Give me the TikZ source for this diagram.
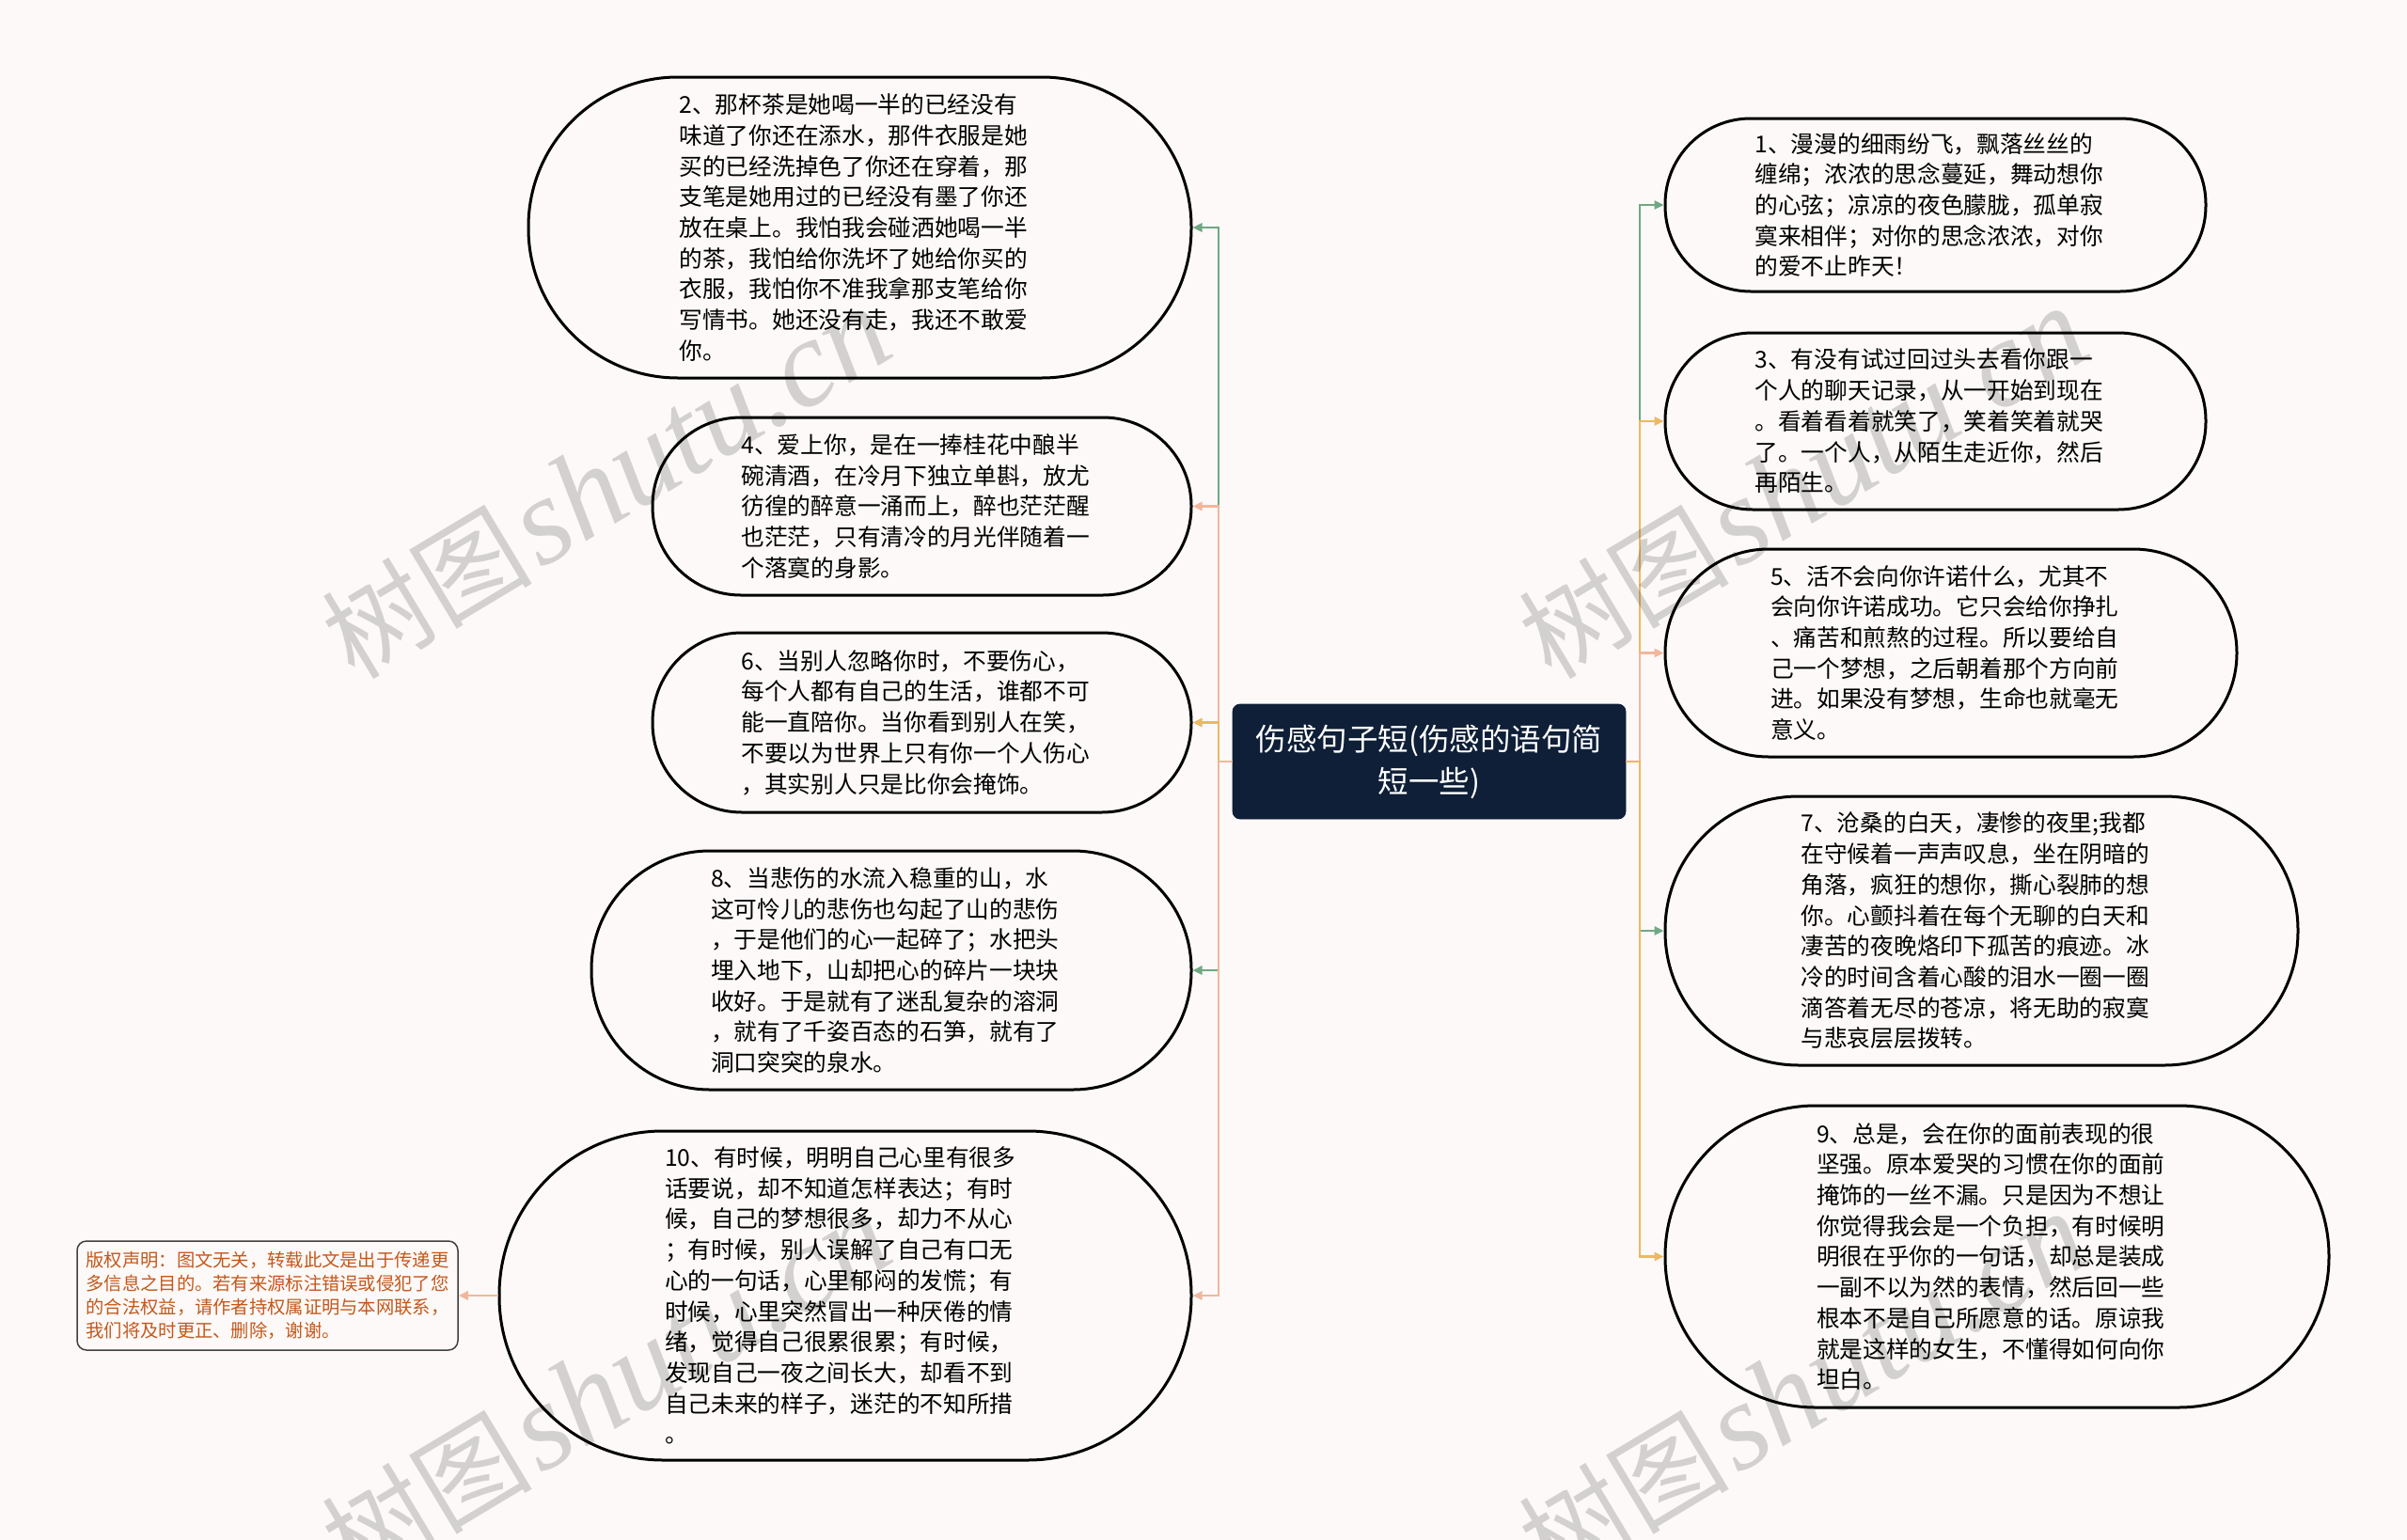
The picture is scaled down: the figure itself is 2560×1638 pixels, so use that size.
\documentclass[tikz,border=0pt]{standalone}
\usepackage{fontspec}
\newfontfamily\cjk{Noto Sans CJK SC}
\newfontfamily\wmserif{Liberation Serif}
\usetikzlibrary{arrows.meta}
\definecolor{bg}{HTML}{FCF9F8}
\definecolor{lgreen}{HTML}{6FA882}
\definecolor{lsalmon}{HTML}{F2B79B}
\definecolor{lyellow}{HTML}{EBB864}
\definecolor{navy}{HTML}{0E1F37}
\definecolor{copyc}{HTML}{C4581C}
\tikzset{
  leaf/.style={draw=black, line width=1.5pt, fill=bg, align=left, inner sep=0pt,
    text width=192pt, font=\cjk\fontsize{12.35pt}{16.35pt}\selectfont},
  conn/.style={line width=1.25pt, -{Triangle[length=5pt,width=4.5pt]}},
  rootbox/.style={fill=navy, draw=navy, rounded corners=4pt, text=white, align=center,
    inner sep=0pt, minimum width=209pt, minimum height=61pt,
    font=\cjk\fontsize{16.25pt}{22.5pt}\selectfont},
  copybox/.style={draw=black!75, line width=0.75pt, fill=bg, rounded corners=5pt,
    text=copyc, align=left, inner sep=0pt, minimum width=202.5pt, minimum height=58pt,
    font=\cjk\fontsize{9.65pt}{12.5pt}\selectfont},
  wmark/.style={text=black, text opacity=0.16, rotate=31, inner sep=0pt}
}
\begin{document}
\begin{tikzpicture}[x=0.5pt,y=-0.5pt]
\fill[bg] (0,0) rectangle (2560,1638);
\useasboundingbox (0,0) rectangle (2560,1638);

% root
\node[rootbox] (c) at (1520,810) {伤感句子短(伤感的语句简\\短一些)};

% left leaves
\node[leaf, minimum width=352.5pt, minimum height=160pt, rounded corners=79.5pt] (n2) at (914.5,242)
{2、那杯茶是她喝一半的已经没有\\味道了你还在添水，那件衣服是她\\买的已经洗掉色了你还在穿着，那\\支笔是她用过的已经没有墨了你还\\放在桌上。我怕我会碰洒她喝一半\\的茶，我怕给你洗坏了她给你买的\\衣服，我怕你不准我拿那支笔给你\\写情书。她还没有走，我还不敢爱\\你。};
\node[leaf, minimum width=286.5pt, minimum height=94.5pt, rounded corners=47pt] (n4) at (980.5,538.5)
{4、爱上你，是在一捧桂花中酿半\\碗清酒，在冷月下独立单斟，放尤\\彷徨的醉意一涌而上，醉也茫茫醒\\也茫茫，只有清冷的月光伴随着一\\个落寞的身影。};
\node[leaf, minimum width=286.5pt, minimum height=95.5pt, rounded corners=47.5pt] (n6) at (980.5,768.5)
{6、当别人忽略你时，不要伤心，\\每个人都有自己的生活，谁都不可\\能一直陪你。当你看到别人在笑，\\不要以为世界上只有你一个人伤心\\，其实别人只是比你会掩饰。};
\node[leaf, minimum width=319pt, minimum height=127pt, rounded corners=63pt] (n8) at (948,1032)
{8、当悲伤的水流入稳重的山，水\\这可怜儿的悲伤也勾起了山的悲伤\\，于是他们的心一起碎了；水把头\\埋入地下，山却把心的碎片一块块\\收好。于是就有了迷乱复杂的溶洞\\，就有了千姿百态的石笋，就有了\\洞口突突的泉水。};
\node[leaf, minimum width=368pt, minimum height=175pt, rounded corners=87pt] (n10) at (899,1378)
{10、有时候，明明自己心里有很多\\话要说，却不知道怎样表达；有时\\候，自己的梦想很多，却力不从心\\；有时候，别人误解了自己有口无\\心的一句话，心里郁闷的发慌；有\\时候，心里突然冒出一种厌倦的情\\绪，觉得自己很累很累；有时候，\\发现自己一夜之间长大，却看不到\\自己未来的样子，迷茫的不知所措\\。};

% right leaves
\node[leaf, minimum width=287.5pt, minimum height=92pt, rounded corners=45.5pt] (n1) at (2058.5,218)
{1、漫漫的细雨纷飞，飘落丝丝的\\缠绵；浓浓的思念蔓延，舞动想你\\的心弦；凉凉的夜色朦胧，孤单寂\\寞来相伴；对你的思念浓浓，对你\\的爱不止昨天！};
\node[leaf, minimum width=287.5pt, minimum height=94pt, rounded corners=46.5pt] (n3) at (2058.5,448)
{3、有没有试过回过头去看你跟一\\个人的聊天记录，从一开始到现在\\。看着看着就笑了，笑着笑着就哭\\了。一个人，从陌生走近你，然后\\再陌生。};
\node[leaf, minimum width=304pt, minimum height=110.5pt, rounded corners=55pt] (n5) at (2075,694.5)
{5、活不会向你许诺什么，尤其不\\会向你许诺成功。它只会给你挣扎\\、痛苦和煎熬的过程。所以要给自\\己一个梦想，之后朝着那个方向前\\进。如果没有梦想，生命也就毫无\\意义。};
\node[leaf, minimum width=336.5pt, minimum height=143pt, rounded corners=71pt] (n7) at (2107.5,990)
{7、沧桑的白天，凄惨的夜里;我都\\在守候着一声声叹息，坐在阴暗的\\角落，疯狂的想你，撕心裂肺的想\\你。心颤抖着在每个无聊的白天和\\凄苦的夜晚烙印下孤苦的痕迹。冰\\冷的时间含着心酸的泪水一圈一圈\\滴答着无尽的苍凉，将无助的寂寞\\与悲哀层层拨转。};
\node[leaf, minimum width=353pt, minimum height=160.5pt, rounded corners=80pt] (n9) at (2124,1336.5)
{9、总是，会在你的面前表现的很\\坚强。原本爱哭的习惯在你的面前\\掩饰的一丝不漏。只是因为不想让\\你觉得我会是一个负担，有时候明\\明很在乎你的一句话，却总是装成\\一副不以为然的表情，然后回一些\\根本不是自己所愿意的话。原谅我\\就是这样的女生，不懂得如何向你\\坦白。};

% copyright
\node[copybox] (cp) at (284.5,1378)
{版权声明：图文无关，转载此文是出于传递更\\多信息之目的。若有来源标注错误或侵犯了您\\的合法权益，请作者持权属证明与本网联系，\\我们将及时更正、删除，谢谢。};

% trunks
\coordinate (LT) at (1296,810);
\coordinate (RT) at (1744,810);

% left connectors
\draw[conn,lgreen] (c.west) -- (LT) |- (n2.east);
\draw[conn,lgreen] (c.west) -- (LT) |- (n8.east);
\draw[conn,lsalmon] (c.west) -- (LT) |- (n4.east);
\draw[conn,lyellow] (c.west) -- (LT) |- (n6.east);
\draw[conn,lsalmon] (c.west) -- (LT) |- (n10.east);

% right connectors
\draw[conn,lgreen] (c.east) -- (RT) |- (n1.west);
\draw[conn,lgreen] (c.east) -- (RT) |- (n7.west);
\draw[conn,lyellow] (c.east) -- (RT) |- (n3.west);
\draw[conn,lsalmon] (c.east) -- (RT) |- (n5.west);
\draw[conn,lyellow] (c.east) -- (RT) |- (n9.west);

% copyright connector
\draw[conn,lsalmon] (n10.west) -- (n10.west -| cp.east);

% watermarks
\foreach \wx/\wy in {645/514, 1918/514, 645/1477, 1918/1477}{
  \node[wmark] at (\wx,\wy) {{\cjk\fontsize{56pt}{56pt}\selectfont 树图} {\wmserif\itshape\fontsize{66pt}{66pt}\selectfont shutu.cn}};
}
\end{tikzpicture}
\end{document}
